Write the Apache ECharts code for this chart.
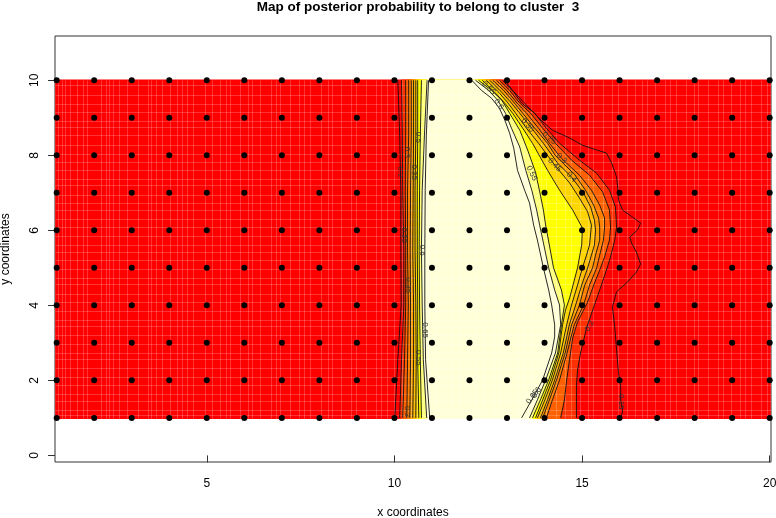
<!DOCTYPE html>
<html><head><meta charset="utf-8">
<style>html,body{margin:0;padding:0;background:#fff}#c{width:776px;height:518px}</style>
<script src="https://cdn.jsdelivr.net/npm/echarts@6/dist/echarts.min.js"></script>
</head><body><div id="c"></div>
<script>
const gridXs=[1,2,3,4,5,6,7,8,9,10,11,12,13,14,15,16,17,18,19,20];
const gridYs=[1,2,3,4,5,6,7,8,9,10];
const xTicks=[5,10,15,20];
const yTicks=[0,2,4,6,8,10];
const fieldX=[0.96,20.03];
const fieldY=[0.97,10.02];
const levels=[0.15,0.2,0.25,0.3,0.35,0.4,0.45,0.5,0.55,0.6,0.65];
const leftY=[10,8.54,7.07,5.47,4.01,2.55,1];
const left15=[10.09,10.14,10.17,10.17,10.18,10.09,10.01];
const left20=[10.19,10.21,10.22,10.25,10.25,10.19,10.14];
const left25=[10.30,10.30,10.29,10.30,10.30,10.27,10.22];
const left30=[10.38,10.38,10.35,10.35,10.37,10.35,10.33];
const left35=[10.45,10.45,10.43,10.42,10.43,10.43,10.41];
const left40=[10.51,10.51,10.50,10.49,10.51,10.51,10.49];
const left45=[10.57,10.57,10.55,10.55,10.57,10.58,10.57];
const left50=[10.62,10.62,10.61,10.61,10.62,10.62,10.65];
const left55=[10.72,10.69,10.67,10.66,10.67,10.69,10.72];
const left60=[10.87,10.80,10.74,10.72,10.74,10.77,10.86];
const left65=[10.91,10.85,10.82,10.81,10.81,10.83,10.94];
const right15=[[12.94,10],[13.15,9.73],[13.45,9.41],[13.90,8.94],[14.21,8.67],[14.67,8.46],[15.01,8.27],[15.33,8.16],[15.65,8.06],[15.79,7.79],[15.92,7.42],[15.95,7.15],[15.97,6.81],[16.08,6.54],[16.35,6.35],[16.56,6.19],[16.48,6.01],[16.27,5.82],[16.32,5.66],[16.45,5.42],[16.56,5.10],[16.45,4.89],[16.21,4.62],[15.92,4.36],[15.81,3.96],[15.87,3.43],[15.92,2.81],[15.97,2.20],[16.03,1.83],[16.03,1.48],[16.08,1.16],[16.03,1]];
const right20=[[12.88,10],[13.18,9.68],[13.39,9.39],[13.74,9.12],[14.05,8.72],[14.40,8.32],[14.93,7.87],[15.39,7.52],[15.73,7.07],[15.89,6.62],[15.92,6.09],[15.87,5.74],[15.76,5.29],[15.65,4.94],[15.47,4.41],[15.33,4.01],[15.12,3.40],[14.96,2.73],[14.88,2.28],[14.85,1.88],[14.85,1]];
const right25=[[12.80,10],[13.07,9.73],[13.34,9.39],[13.63,9.12],[13.95,8.72],[14.29,8.32],[14.72,7.87],[15.20,7.47],[15.55,7.02],[15.73,6.54],[15.76,6.09],[15.73,5.74],[15.60,5.29],[15.47,4.94],[15.31,4.54],[15.15,4.09],[14.88,3.56],[14.75,3.13],[14.69,2.73],[14.59,2.01],[14.53,1.48],[14.43,1]];
const right30=[[12.72,10],[12.99,9.73],[13.27,9.39],[13.52,9.12],[13.84,8.72],[14.13,8.32],[14.45,7.92],[14.93,7.47],[15.25,7.07],[15.47,6.67],[15.60,6.33],[15.60,6.09],[15.57,5.74],[15.47,5.34],[15.39,5.00],[15.20,4.54],[15.04,4.01],[14.79,3.48],[14.60,2.73],[14.40,2.01],[14.21,1.48],[14.05,1]];
const right35=[[12.62,10],[12.91,9.73],[13.20,9.39],[13.42,9.12],[13.74,8.72],[14.08,8.32],[14.29,7.99],[14.80,7.49],[15.09,7.07],[15.31,6.67],[15.44,6.33],[15.47,6.09],[15.47,5.74],[15.36,5.34],[15.28,5.00],[15.07,4.54],[14.93,4.01],[14.72,3.48],[14.55,2.73],[14.32,2.01],[14.13,1.48],[13.95,1]];
const right40=[[12.54,10],[12.86,9.68],[13.12,9.39],[13.34,9.12],[13.66,8.72],[13.97,8.32],[14.35,7.79],[14.72,7.42],[15.04,6.99],[15.23,6.62],[15.33,6.27],[15.36,6.01],[15.33,5.61],[15.25,5.34],[15.15,5.00],[14.99,4.54],[14.83,4.01],[14.66,3.48],[14.50,2.73],[14.27,2.01],[14.08,1.48],[13.89,1]];
const right45=[[12.45,10],[12.78,9.68],[13.03,9.39],[13.23,9.12],[13.52,8.72],[13.84,8.32],[14.27,7.74],[14.67,7.26],[14.93,6.86],[15.15,6.49],[15.25,6.14],[15.20,5.61],[15.12,5.34],[15.01,5.00],[14.88,4.54],[14.72,4.01],[14.59,3.48],[14.43,2.73],[14.21,2.01],[14.01,1.48],[13.81,1]];
const right50=[[12.34,10],[12.67,9.68],[12.94,9.39],[13.15,9.12],[13.42,8.72],[13.68,8.32],[14.08,7.60],[14.40,7.07],[14.75,6.54],[15.01,6.06],[14.99,5.61],[14.88,5.00],[14.67,4.20],[14.56,3.88],[14.48,3.48],[14.38,2.73],[14.16,2.01],[13.95,1.48],[13.76,1]];
const right55=[[12.24,10],[12.59,9.73],[12.86,9.47],[13.07,9.12],[13.34,8.67],[13.55,8.14],[13.76,7.55],[13.89,6.94],[13.97,6.54],[14.03,6.14],[14.24,5.00],[14.45,4.41],[14.53,4.01],[14.45,3.48],[14.35,2.73],[14.11,2.01],[13.89,1.48],[13.68,1]];
const right60=[[12.16,10],[12.51,9.73],[12.75,9.47],[12.96,9.12],[13.12,8.72],[13.34,8.22],[13.50,7.60],[13.66,7.07],[13.79,6.54],[13.87,6.14],[14.11,5.00],[14.27,4.41],[14.40,4.01],[14.43,3.48],[14.29,2.73],[14.03,2.01],[13.81,1.48],[13.60,1]];
const right65=[[12.06,10],[12.32,9.73],[12.59,9.52],[12.80,9.25],[12.94,8.94],[13.07,8.59],[13.18,8.19],[13.28,7.60],[13.47,7.07],[13.60,6.73],[13.71,6.14],[13.81,5.74],[13.97,5.00],[14.11,4.41],[14.19,4.01],[14.27,3.48],[14.27,3.16],[14.19,2.73],[13.95,2.01],[13.66,1.48],[13.39,1]];
const seamX=[1.03,1.14,1.22,1.35,1.54,1.70,1.80,2.18,2.31,2.39,2.50,2.66,2.87,3.16,3.43,3.51,3.64,3.80,4.02,4.20,4.34,4.47,4.63,4.95,5.13,5.36,5.50,5.62,5.89,6.10,6.21,6.42,6.70,6.84,6.95,7.21,7.45,7.58,7.76,8.05,8.22,8.33,8.58,8.84,8.98,9.24,9.51,9.63,9.80,10.0,10.2,10.45,10.6,10.9,11.1,11.35,11.5,11.75,12.0,12.15,12.4,12.65,12.8,13.05,13.3,13.45,13.65,13.9,14.05,14.3,14.55,14.7,14.95,15.15,15.3,15.55,15.8,15.95,16.2,16.42,16.6,16.72,16.95,17.2,17.34,17.5,17.78,17.97,18.1,18.36,18.62,18.75,18.96,19.2,19.34,19.5,19.78,19.92];
const seamY=[9.88,9.61,9.37,9.16,8.92,8.76,8.55,8.28,8.04,7.83,7.62,7.38,7.20,6.94,6.72,6.55,6.30,6.08,5.86,5.60,5.42,5.20,4.96,4.72,4.56,4.30,4.08,3.86,3.62,3.44,3.20,2.96,2.74,2.58,2.32,2.10,1.88,1.64,1.46,1.22,1.08];
const labelTexts=['0.2','0.3','0.5','0.35','0.25','0.6','0.35','0.65','0.55','0.3','0.55','0.6','0.35','0.25','0.3','0.45','0.4','0.55','0.65','0.6','0.2','0.15'];
const labelX=[10.16,10.33,10.64,10.54,10.25,10.73,10.38,10.83,10.64,10.35,12.51,12.78,13.55,14.13,14.45,14.27,14.72,13.66,13.68,13.79,15.20,16.03];
const labelY=[7.55,8.08,8.48,7.55,5.87,5.47,4.54,3.34,2.60,1.17,9.79,9.36,8.80,8.46,7.92,7.74,7.42,7.52,1.56,1.67,3.45,1.43];
const labelAngle=[-90,-90,-90,-90,-90,-90,-90,-90,-90,-90,-45,-55,-50,-40,-45,-45,-50,-65,55,55,60,-90];
const bandColors=['#FF3000','#FF6000','#FF8000','#FFA000','#FFBF00','#FFD500','#FFFF00','#FFFF80','#FFFFD8'];
const bandLeft=[left20,left25,left30,left35,left40,left45,left50,left55,left60];
const bandRight=[right20,right25,right30,right35,right40,right45,right50,right55,right60];
const leftLines=[left15,left20,left25,left30,left35,left40,left45,left50,left55,left60,left65];
const rightLines=[right15,right20,right25,right30,right35,right40,right45,right50,right55,right60,right65];
const fontFam='"Liberation Sans",Arial,sans-serif';
const series=[];
series.push({type:'custom',coordinateSystem:'cartesian2d',silent:true,z:1,animation:false,clip:false,
  data:[[-1]].concat(bandColors.map((c,i)=>[i])),
  renderItem(p,api){
    const i=api.value(0);
    let pts,fill;
    if(i<0){pts=[[fieldX[0],fieldY[0]],[fieldX[1],fieldY[0]],[fieldX[1],fieldY[1]],[fieldX[0],fieldY[1]]];fill='#FF0000';}
    else{
      const L=bandLeft[i].map((x,k)=>[x,leftY[k]]);
      const R=bandRight[i];
      pts=[[L[0][0],fieldY[1]]].concat(L,[[L[L.length-1][0],fieldY[0]],[R[R.length-1][0],fieldY[0]]],R.slice().reverse(),[[R[0][0],fieldY[1]]]);
      fill=bandColors[i];
    }
    return {type:'polygon',shape:{points:pts.map(q=>api.coord(q))},style:{fill:fill}};
  }});
series.push({type:'custom',coordinateSystem:'cartesian2d',silent:true,z:2,animation:false,clip:false,
  data:seamX.map(v=>[0,v]).concat(seamY.map(v=>[1,v])),
  renderItem(p,api){
    const v=api.value(1);
    const a=api.value(0)===0?[v,fieldY[0]]:[fieldX[0],v];
    const b=api.value(0)===0?[v,fieldY[1]]:[fieldX[1],v];
    const A=api.coord(a),B=api.coord(b);
    return {type:'line',shape:{x1:Math.round(A[0])+.5,y1:Math.round(A[1])+.5,x2:Math.round(B[0])+.5,y2:Math.round(B[1])+.5},style:{stroke:'rgba(255,255,255,0.2)',lineWidth:1}};
  }});
leftLines.forEach(xs=>series.push({type:'line',data:xs.map((x,k)=>[x,leftY[k]]),showSymbol:false,silent:true,animation:false,z:3,clip:false,lineStyle:{color:'#111',width:0.9}}));
rightLines.forEach(l=>series.push({type:'line',data:l,showSymbol:false,silent:true,animation:false,z:3,clip:false,lineStyle:{color:'#111',width:0.9}}));
series.push({type:'custom',coordinateSystem:'cartesian2d',silent:true,z:4,animation:false,clip:false,
  data:labelTexts.map((t,i)=>[labelX[i],labelY[i],i]),
  renderItem(p,api){
    const i=api.value(2);const P=api.coord([api.value(0),api.value(1)]);
    return {type:'text',x:P[0],y:P[1],rotation:labelAngle[i]*Math.PI/180,style:{text:labelTexts[i],x:0,y:0,align:'center',verticalAlign:'middle',fontSize:8,fontFamily:fontFam,fill:'#333'}};
  }});
const pts=[];gridYs.forEach(y=>gridXs.forEach(x=>pts.push([x,y])));
series.push({type:'scatter',data:pts,symbolSize:6,silent:true,animation:false,z:5,clip:false,itemStyle:{color:'#000',opacity:1}});
const chart=echarts.init(document.getElementById('c'),null,{renderer:'canvas'});
chart.setOption({
  animation:false,backgroundColor:'#fff',
  title:{text:'Map of posterior probability to belong to cluster  3',left:413,top:-6,textAlign:'center',textStyle:{fontFamily:fontFam,fontSize:13.5,fontWeight:'bold',color:'#000',lineHeight:16}},
  grid:{left:55,top:36,width:716,height:426,show:true,outerBoundsMode:'none',containLabel:false,borderColor:'#333',borderWidth:1,backgroundColor:'transparent'},
  xAxis:{type:'value',min:0.955,max:20.035,name:'x coordinates',nameLocation:'middle',nameGap:45,
    nameTextStyle:{fontFamily:fontFam,fontSize:12,color:'#000'},
    axisLine:{show:false},splitLine:{show:false},
    axisTick:{show:true,length:7,customValues:xTicks,lineStyle:{color:'#333'}},
    axisLabel:{show:true,customValues:xTicks,margin:16,fontFamily:fontFam,fontSize:12,color:'#000',formatter:v=>String(v)}},
  yAxis:{type:'value',min:-0.176,max:11.18,name:'y coordinates',nameLocation:'middle',nameGap:43,
    nameTextStyle:{fontFamily:fontFam,fontSize:12,color:'#000'},
    axisLine:{show:false},splitLine:{show:false},
    axisTick:{show:true,length:7,customValues:yTicks,lineStyle:{color:'#333'}},
    axisLabel:{show:true,customValues:yTicks,rotate:90,margin:14,fontFamily:fontFam,fontSize:12,color:'#000',formatter:v=>String(v)}},
  series:series
});
</script></body></html>
